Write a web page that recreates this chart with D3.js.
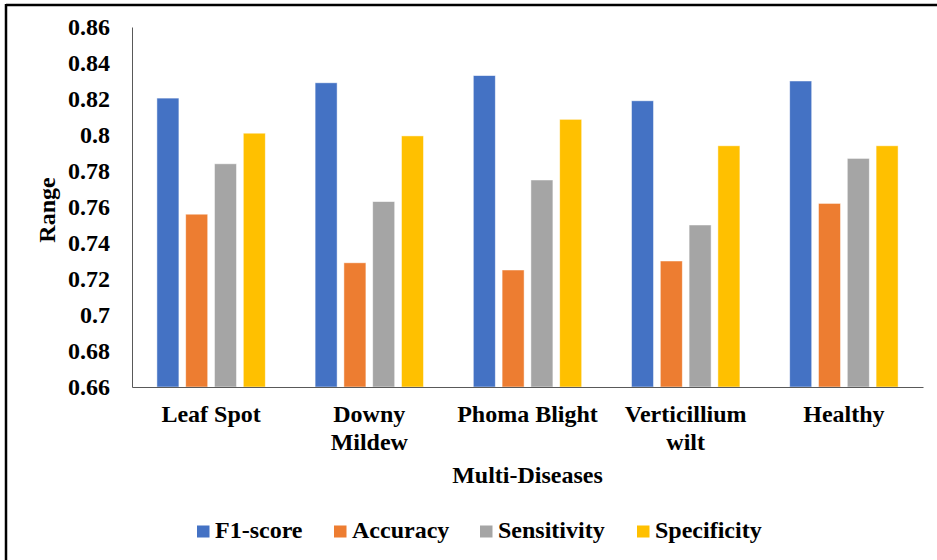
<!DOCTYPE html>
<html>
<head>
<meta charset="utf-8">
<script src="https://cdn.jsdelivr.net/npm/d3@7"></script>
<style>
  html, body { margin: 0; padding: 0; background: #fff; }
  svg { display: block; }
</style>
</head>
<body>
<svg id="chart" width="937" height="560"></svg>
<script>
const categories = ["Leaf Spot", "Downy Mildew", "Phoma Blight", "Verticillium wilt", "Healthy"];
const categoryLabelLines = [["Leaf Spot"], ["Downy", "Mildew"], ["Phoma Blight"], ["Verticillium", "wilt"], ["Healthy"]];
const seriesNames = ["F1-score", "Accuracy", "Sensitivity", "Specificity"];
const f1Score     = [0.8205, 0.829, 0.833, 0.819, 0.830];
const accuracy    = [0.756, 0.729, 0.725, 0.730, 0.762];
const sensitivity = [0.784, 0.763, 0.775, 0.750, 0.787];
const specificity = [0.801, 0.7995, 0.8087, 0.794, 0.794];
const yTicks = [0.66, 0.68, 0.7, 0.72, 0.74, 0.76, 0.78, 0.8, 0.82, 0.84, 0.86];
const colors = ["#4472C4", "#ED7D31", "#A5A5A5", "#FFC000"];

const FONT = "'Liberation Serif', 'Times New Roman', Times, 'DejaVu Serif', serif";
const seriesValues = [f1Score, accuracy, sensitivity, specificity];
const svg = d3.select("#chart");

// outer frame (top & left edges visible)
svg.append("line").attr("x1", 6).attr("x2", 937).attr("y1", 5).attr("y2", 5)
  .attr("stroke", "#000").attr("stroke-width", 2.5);
svg.append("line").attr("x1", 6).attr("x2", 6).attr("y1", 4).attr("y2", 560)
  .attr("stroke", "#000").attr("stroke-width", 2.5);

const plot = { left: 132, right: 923, top: 27, bottom: 387 };

const y = d3.scaleLinear().domain([0.66, 0.86]).range([plot.bottom, plot.top]);
const x0 = d3.scaleBand().domain(categories).range([plot.left, plot.right]).paddingInner(0).paddingOuter(0);
const x1 = d3.scaleBand().domain(seriesNames).range([0, x0.bandwidth()]).paddingInner(0.236).paddingOuter(0.865);
const color = d3.scaleOrdinal().domain(seriesNames).range(colors);

// bars
const groups = svg.append("g").selectAll("g")
  .data(categories).join("g")
  .attr("transform", d => `translate(${x0(d)},0)`);

groups.selectAll("rect")
  .data((d, i) => seriesNames.map((s, j) => ({ s, v: seriesValues[j][i] })))
  .join("rect")
  .attr("x", d => x1(d.s))
  .attr("width", x1.bandwidth())
  .attr("y", d => y(d.v))
  .attr("height", d => y(0.66) - y(d.v))
  .attr("fill", d => color(d.s))
  .attr("stroke", "#fff")
  .attr("stroke-opacity", 0.6)
  .attr("stroke-width", 0.8);

function styleText(sel) {
  sel.style("font-family", FONT).style("font-weight", "bold").style("font-size", "24px").style("fill", "#000");
}

// y axis
const yAxis = d3.axisLeft(y).tickValues(yTicks).tickSize(0).tickPadding(22)
  .tickFormat(d => String(+d.toFixed(2)));
const yg = svg.append("g").attr("transform", `translate(${plot.left},0)`).call(yAxis);
yg.attr("font-family", null).attr("font-size", null);
yg.select(".domain").attr("stroke", "#595959").attr("stroke-width", 1);
yg.selectAll("text").call(styleText);

// x axis
const xAxis = d3.axisBottom(x0).tickSize(0).tickFormat("");
const xg = svg.append("g").attr("transform", `translate(0,${plot.bottom})`).call(xAxis);
xg.select(".domain").attr("stroke", "#595959").attr("stroke-width", 1.2);

// category labels
categories.forEach((c, i) => {
  const cx = x0(c) + x0.bandwidth() / 2;
  const t = svg.append("text")
    .attr("x", cx)
    .attr("y", 422)
    .attr("text-anchor", "middle")
    .call(styleText);
  categoryLabelLines[i].forEach((ln, k) => {
    t.append("tspan").attr("x", cx).attr("dy", k === 0 ? 0 : 28).text(ln);
  });
});

// axis titles
svg.append("text")
  .attr("x", (plot.left + plot.right) / 2).attr("y", 483)
  .attr("text-anchor", "middle").call(styleText)
  .text("Multi-Diseases");

svg.append("text")
  .attr("transform", `translate(55,${(plot.top + plot.bottom) / 2 + 3}) rotate(-90)`)
  .attr("text-anchor", "middle").call(styleText)
  .text("Range");

// legend
const legendX = [197, 334, 480, 637];
const legend = svg.append("g");
seriesNames.forEach((s, i) => {
  legend.append("rect").attr("x", legendX[i]).attr("y", 525.5).attr("width", 12.5).attr("height", 12)
    .attr("fill", color(s));
  legend.append("text").attr("x", legendX[i] + 18).attr("y", 538).call(styleText).text(s);
});
</script>
</body>
</html>
